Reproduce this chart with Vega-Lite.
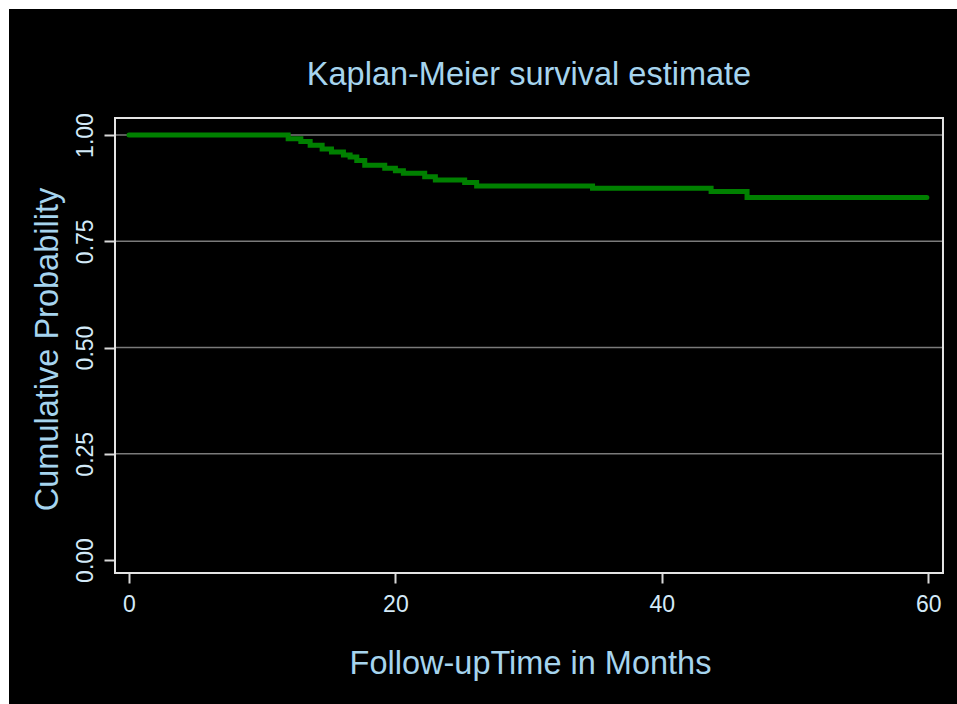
{
  "$schema": "https://vega.github.io/schema/vega-lite/v6.json",
  "width": 948,
  "height": 695,
  "autosize": {"type": "none"},
  "padding": {"left": 9, "top": 9, "right": 0, "bottom": 0},
  "background": "white",
  "config": {
    "font": "Liberation Sans",
    "view": {"fill": "black", "stroke": null}
  },
  "layer": [
    {
      "data": {"values": [{"g": 0.25}, {"g": 0.5}, {"g": 0.75}, {"g": 1.0}]},
      "mark": {"type": "rule", "color": "#7a7a7a", "strokeWidth": 1.5},
      "encoding": {
        "x": {"datum": -1.051, "type": "quantitative"},
        "x2": {"datum": 61.11},
        "y": {"field": "g", "type": "quantitative"}
      }
    },
    {
      "data": {"values": [{"frame": "plot"}]},
      "mark": {"type": "rect", "fill": null, "fillOpacity": 0, "stroke": "#e4e4e4", "strokeWidth": 2},
      "encoding": {
        "x": {"datum": -1.051, "type": "quantitative"},
        "x2": {"datum": 61.11},
        "y": {"datum": -0.0306, "type": "quantitative"},
        "y2": {"datum": 1.04}
      }
    },
    {
      "data": {
        "values": [
          {"t": 0, "s": 1.0},
          {"t": 11.95, "s": 0.991},
          {"t": 12.9, "s": 0.985},
          {"t": 13.6, "s": 0.976},
          {"t": 14.5, "s": 0.967},
          {"t": 15.2, "s": 0.96},
          {"t": 16.1, "s": 0.953},
          {"t": 16.6, "s": 0.948},
          {"t": 17.1, "s": 0.94},
          {"t": 17.7, "s": 0.929},
          {"t": 19.2, "s": 0.922},
          {"t": 20.0, "s": 0.916},
          {"t": 20.6, "s": 0.91},
          {"t": 22.2, "s": 0.902},
          {"t": 23.0, "s": 0.894},
          {"t": 25.2, "s": 0.888},
          {"t": 26.1, "s": 0.88},
          {"t": 34.8, "s": 0.875},
          {"t": 43.7, "s": 0.867},
          {"t": 46.4, "s": 0.853},
          {"t": 59.9, "s": 0.853}
        ]
      },
      "mark": {"type": "line", "interpolate": "step-after", "color": "#008000", "strokeWidth": 5, "strokeCap": "round"},
      "encoding": {
        "x": {
          "field": "t",
          "type": "quantitative",
          "scale": {"domain": [-9.009, 62.162], "nice": false, "zero": false},
          "axis": {
            "values": [0, 20, 40, 60],
            "offset": -131,
            "domain": false,
            "grid": false,
            "ticks": true,
            "tickSize": 10,
            "tickWidth": 2,
            "tickColor": "#d8d8d8",
            "labelColor": "#d4eaf8",
            "labelFontSize": 23,
            "labelBaseline": "alphabetic",
            "labelPadding": 28,
            "labelFlush": false,
            "labelOverlap": false,
            "title": "Follow-upTime in Months",
            "titleColor": "#a6d4ee",
            "titleFontSize": 32.5,
            "titleFontWeight": "normal",
            "titleX": 521,
            "titleY": 100,
            "titleAlign": "center",
            "titleBaseline": "alphabetic"
          }
        },
        "y": {
          "field": "s",
          "type": "quantitative",
          "scale": {"domain": [-0.3388, 1.2965], "nice": false, "zero": false},
          "axis": {
            "values": [0, 0.25, 0.5, 0.75, 1],
            "format": ".2f",
            "offset": -106,
            "domain": false,
            "grid": false,
            "tickSize": 11,
            "tickWidth": 2,
            "tickColor": "#d8d8d8",
            "labelColor": "#d4eaf8",
            "labelFontSize": 23,
            "labelAngle": -90,
            "labelAlign": "center",
            "labelBaseline": "alphabetic",
            "labelPadding": 12,
            "labelFlush": false,
            "labelOverlap": false,
            "title": "Cumulative Probability",
            "titleColor": "#a6d4ee",
            "titleFontSize": 32.5,
            "titleFontWeight": "normal",
            "titleAngle": -90,
            "titleX": -58,
            "titleY": 340,
            "titleAlign": "center",
            "titleBaseline": "alphabetic"
          }
        }
      }
    },
    {
      "data": {"values": [{"label": "Kaplan-Meier survival estimate"}]},
      "mark": {"type": "text", "align": "center", "baseline": "alphabetic", "fontSize": 32.5, "color": "#a6d4ee"},
      "encoding": {
        "x": {"datum": 30.03, "type": "quantitative"},
        "y": {"datum": 1.1176, "type": "quantitative"},
        "text": {"field": "label"}
      }
    }
  ]
}
